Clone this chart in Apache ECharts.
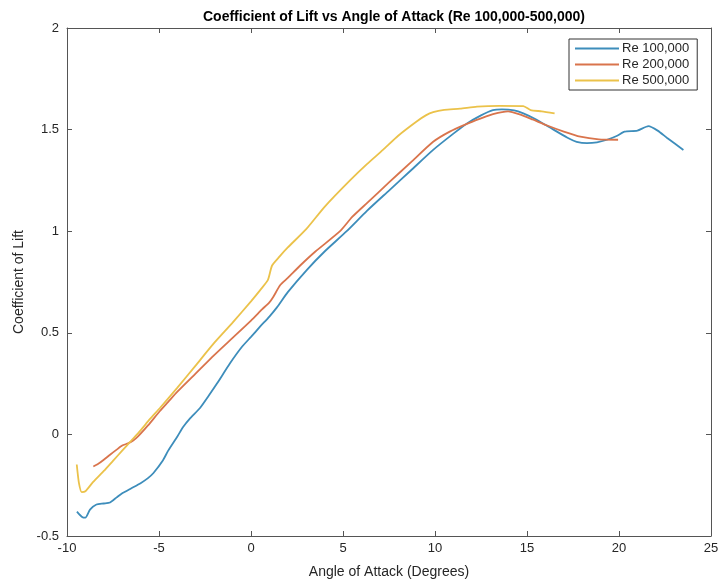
<!DOCTYPE html>
<html>
<head>
<meta charset="utf-8">
<script src="https://cdn.jsdelivr.net/npm/echarts@6/dist/echarts.min.js"></script>
<style>
    html, body { margin: 0; padding: 0; background: #fff; }
    #chart { width: 720px; height: 582px; }
</style>
</head>
<body>
<div id="chart"></div>
<script>
// values: [angle of attack, lift coefficient]
const re100k = [
    [-9.46, -0.38], [-9.2, -0.405], [-9.0, -0.41], [-8.75, -0.37], [-8.4, -0.345], [-8.0, -0.34],
    [-7.66, -0.335], [-7.3, -0.31], [-7.0, -0.29], [-6.5, -0.265], [-6.0, -0.24], [-5.6, -0.215],
    [-5.3, -0.19], [-4.8, -0.13], [-4.5, -0.08], [-4.0, -0.01], [-3.7, 0.035], [-3.3, 0.08],
    [-2.77, 0.13], [-2.3, 0.19], [-1.85, 0.25], [-1.14, 0.35], [-0.5, 0.43], [0.0, 0.48],
    [0.49, 0.53], [1.0, 0.58], [1.41, 0.625], [2.0, 0.7], [3.04, 0.81], [4.0, 0.9], [5.2, 1.0],
    [6.3, 1.10], [7.5, 1.2], [8.7, 1.3], [9.9, 1.40], [11.0, 1.48], [11.74, 1.53], [12.5, 1.57],
    [13.15, 1.596], [13.64, 1.60], [14.3, 1.595], [14.8, 1.58], [15.5, 1.55], [16.25, 1.51],
    [17.2, 1.46], [17.7, 1.44], [18.26, 1.433], [18.8, 1.437], [19.35, 1.45], [19.9, 1.47],
    [20.3, 1.49], [21.0, 1.495], [21.6, 1.517], [22.1, 1.495], [22.6, 1.46], [23.5, 1.40]
];
const re200k = [
    [-8.57, -0.158], [-8.3, -0.145], [-8.0, -0.125], [-7.66, -0.10], [-7.3, -0.075], [-7.0, -0.055],
    [-6.68, -0.044], [-6.4, -0.03], [-6.14, -0.01], [-5.6, 0.044], [-4.95, 0.115], [-4.5, 0.16],
    [-4.0, 0.21], [-3.0, 0.3], [-2.0, 0.39], [-1.0, 0.475], [0.0, 0.56], [0.6, 0.615], [1.0, 0.65],
    [1.2, 0.675], [1.58, 0.734], [2.0, 0.77], [2.66, 0.83], [3.5, 0.9], [4.84, 1.0], [5.5, 1.07],
    [6.3, 1.138], [7.5, 1.24], [8.7, 1.34], [9.9, 1.44], [10.8, 1.49], [11.7, 1.527], [12.5, 1.555],
    [13.15, 1.576], [13.97, 1.59], [14.6, 1.575], [15.3, 1.55], [16.1, 1.52], [17.0, 1.49],
    [17.9, 1.465], [18.9, 1.452], [19.95, 1.45]
];
const re500k = [
    [-9.47, -0.148], [-9.35, -0.24], [-9.2, -0.284], [-9.0, -0.28], [-8.59, -0.235], [-8.0, -0.18],
    [-7.5, -0.13], [-7.0, -0.08], [-6.5, -0.03], [-6.0, 0.02], [-5.5, 0.075], [-4.95, 0.13],
    [-4.0, 0.23], [-3.0, 0.34], [-2.0, 0.45], [-1.0, 0.55], [0.0, 0.655], [0.5, 0.71], [0.92, 0.76],
    [1.14, 0.83], [1.5, 0.87], [2.0, 0.92], [3.0, 1.01], [4.0, 1.12], [5.38, 1.25], [6.3, 1.33],
    [7.17, 1.40], [8.0, 1.47], [9.0, 1.54], [9.5, 1.57], [9.9, 1.586], [10.5, 1.597], [11.36, 1.603],
    [12.28, 1.613], [13.5, 1.617], [14.8, 1.616], [15.2, 1.596], [15.8, 1.59], [16.5, 1.58]
];
const seriesNames = ["Re 100,000", "Re 200,000", "Re 500,000"];
const seriesColors = ["#3d8dbb", "#d9744c", "#ebc24a"];

const font = "'Liberation Sans', Arial, sans-serif";
const textColor = "#262626";

function axisX(position, showLabels) {
    return {
        type: "value",
        position: position,
        min: -10,
        max: 25,
        interval: 5,
        splitLine: { show: false },
        axisLine: { show: true, onZero: false, lineStyle: { color: "#555", width: 1 } },
        axisTick: { show: true, inside: true, length: 5, lineStyle: { color: "#555" } },
        axisLabel: { show: showLabels, color: textColor, fontSize: 13, fontFamily: font, margin: 6 },
        name: showLabels ? "Angle of Attack (Degrees)" : "",
        nameLocation: "middle",
        nameGap: 29,
        nameTextStyle: { color: textColor, fontSize: 14, fontFamily: font }
    };
}

function axisY(position, showLabels) {
    return {
        type: "value",
        position: position,
        min: -0.5,
        max: 2,
        interval: 0.5,
        splitLine: { show: false },
        axisLine: { show: true, onZero: false, lineStyle: { color: "#555", width: 1 } },
        axisTick: { show: true, inside: true, length: 5, lineStyle: { color: "#555" } },
        axisLabel: { show: showLabels, color: textColor, fontSize: 13, fontFamily: font, margin: 8 },
        name: showLabels ? "Coefficient of Lift" : "",
        nameLocation: "middle",
        nameGap: 39,
        nameTextStyle: { color: textColor, fontSize: 14, fontFamily: font }
    };
}

const chart = echarts.init(document.getElementById("chart"));
chart.setOption({
    animation: false,
    backgroundColor: "#fff",
    title: {
        text: "Coefficient of Lift vs Angle of Attack (Re 100,000-500,000)",
        left: 389,
        textAlign: "center",
        top: 5,
        textStyle: { color: "#000", fontSize: 14, fontWeight: "bold", fontFamily: font }
    },
    grid: { left: 67, right: 9, top: 28, bottom: 46, outerBoundsMode: "none", containLabel: false },
    legend: {
        orient: "vertical",
        left: 569,
        top: 39,
        padding: [3, 8, 3, 6],
        itemGap: 3,
        itemWidth: 44,
        itemHeight: 15,
        icon: "path://M0,7 L44,7 L44,9 L0,9 Z",
        backgroundColor: "#fff",
        borderColor: "#333",
        borderWidth: 1,
        borderRadius: 0,
        data: seriesNames,
        textStyle: { color: textColor, fontSize: 13, fontFamily: font, padding: [0, 0, 0, -2] }
    },
    xAxis: [axisX("bottom", true), axisX("top", false)],
    yAxis: [axisY("left", true), axisY("right", false)],
    series: [re100k, re200k, re500k].map((data, i) => ({
        name: seriesNames[i],
        type: "line",
        xAxisIndex: 0,
        yAxisIndex: 0,
        symbol: "none",
        smooth: 0.2,
        color: seriesColors[i],
        lineStyle: { width: 1.8, color: seriesColors[i] },
        data: data
    }))
});
</script>
</body>
</html>
